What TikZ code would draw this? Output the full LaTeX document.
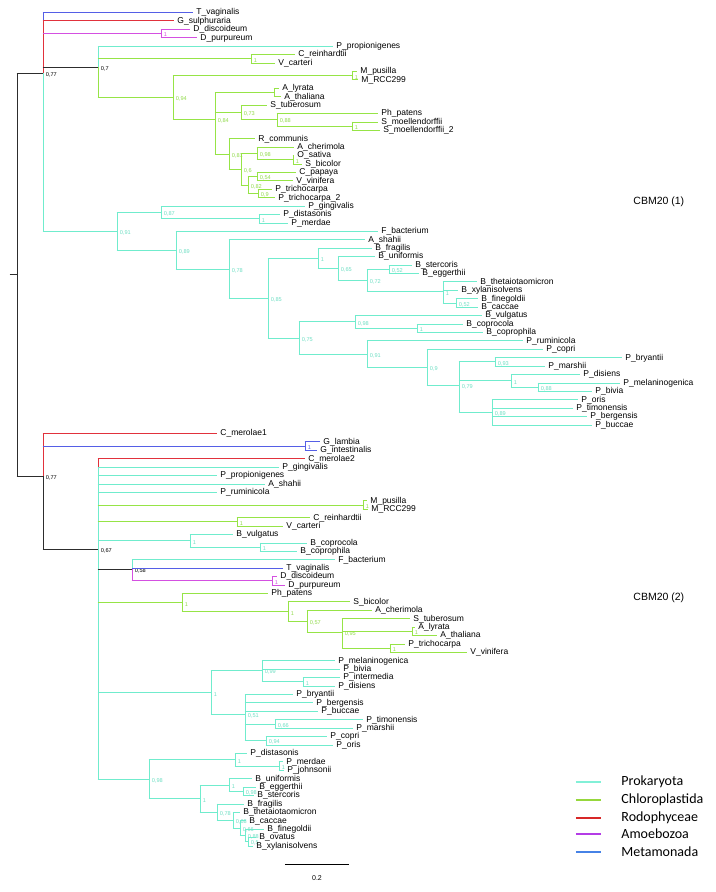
\documentclass[tikz,border=0pt]{standalone}
\usepackage{fontspec}
\setmainfont{Liberation Sans}
\newfontfamily\legfont{Carlito}
\definecolor{cy}{RGB}{112,236,205}
\definecolor{gr}{RGB}{150,228,70}
\definecolor{rd}{RGB}{225,50,60}
\definecolor{mg}{RGB}{212,80,225}
\definecolor{bl}{RGB}{85,95,230}
\definecolor{dk}{RGB}{45,45,45}
\definecolor{cyt}{RGB}{110,222,195}
\definecolor{grt}{RGB}{145,218,75}
\definecolor{lcy}{RGB}{130,240,215}
\definecolor{lgr}{RGB}{150,215,60}
\definecolor{lrd}{RGB}{215,40,40}
\definecolor{lmg}{RGB}{180,60,230}
\definecolor{lbl}{RGB}{70,130,230}
\newcounter{svc}
\newcommand\TreeH[4]{\draw[#1] (#2,#4) -- (#3,#4);}
\newcommand\TreeV[4]{\draw[#1] (#2,#3) -- (#2,#4);}
\newcommand\TreeLeaf[5]{\draw[#1] (#2,#4) -- (#3,#4) node[leaf] (L#4) {#5};}
\newcommand\TreeSup[4]{\stepcounter{svc}\node[sup,text=#1] (S\arabic{svc}) at (#2,#3) {#4};}
\tikzset{
  leaf/.style={anchor=west, inner sep=0pt, xshift=3pt, text=black,
    font=\fontsize{8.5}{9}\selectfont, text height=6.2pt, text depth=1.6pt},
  sup/.style={anchor=west, inner sep=0pt, xshift=2.5pt, yshift=-1.5pt,
    font=\fontsize{5.6}{6}\selectfont},
  every path/.style={line width=0.9pt, line cap=rect}
}
\begin{document}
\begin{tikzpicture}[x=1pt, y=-8.42pt]
\useasboundingbox (0,-1.485) rectangle (716,104.455);
% ---------------- root ----------------
\TreeV{dk}{17}{7.21}{55.08}
\draw[dk] (10,31.15) -- (17,31.15);
\TreeH{dk}{17}{43}{7.21}
\TreeSup{black}{43}{7.21}{0,77}
\TreeH{dk}{17}{43}{55.08}
\TreeSup{black}{43}{55.08}{0,77}
% ---------------- CBM20 (1) ----------------
\TreeV{bl}{43}{0}{1}
\TreeV{rd}{43}{1}{7.21}
\TreeV{cy}{43}{7.21}{25.99}
\TreeLeaf{bl}{43}{193}{0}{T\_vaginalis}
\TreeLeaf{rd}{43}{174}{1}{G\_sulphuraria}
\TreeH{mg}{43}{161}{2.5}
\TreeV{mg}{161}{2}{3}
\TreeLeaf{mg}{161}{190}{2}{D\_discoideum}
\TreeLeaf{mg}{161}{197}{3}{D\_purpureum}
\TreeSup{mg}{161}{2.5}{1}
% 0,7
\TreeH{dk}{43}{98}{6.54}
\TreeSup{black}{98}{6.54}{0,7}
\TreeV{cy}{98}{4}{6.54}
\TreeV{gr}{98}{6.54}{10.11}
\TreeLeaf{cy}{98}{333}{4}{P\_propionigenes}
\TreeH{gr}{98}{251}{5.5}
\TreeV{gr}{251}{5}{6}
\TreeLeaf{gr}{251}{295}{5}{C\_reinhardtii}
\TreeLeaf{gr}{251}{275}{6}{V\_carteri}
\TreeSup{grt}{251}{5.5}{1}
\TreeH{gr}{98}{173}{10.11}
\TreeSup{grt}{173}{10.11}{0,94}
\TreeV{gr}{173}{7.5}{12.73}
\TreeH{gr}{173}{352}{7.5}
\TreeV{gr}{352}{7}{8}
\TreeLeaf{gr}{352}{357}{7}{M\_pusilla}
\TreeLeaf{gr}{352}{358}{8}{M\_RCC299}
\TreeSup{grt}{352}{7.5}{1}
\TreeH{gr}{173}{215}{12.73}
\TreeSup{grt}{215}{12.73}{0,84}
\TreeV{gr}{215}{9.5}{16.81}
\TreeH{gr}{215}{274}{9.5}
\TreeV{gr}{274}{9}{10}
\TreeLeaf{gr}{274}{279}{9}{A\_lyrata}
\TreeLeaf{gr}{274}{281}{10}{A\_thaliana}
\TreeH{gr}{215}{241}{11.875}
\TreeSup{grt}{241}{11.875}{0,73}
\TreeV{gr}{241}{11}{12.75}
\TreeLeaf{gr}{241}{267}{11}{S\_tuberosum}
\TreeH{gr}{241}{277}{12.75}
\TreeSup{grt}{277}{12.75}{0,88}
\TreeV{gr}{277}{12}{13.5}
\TreeLeaf{gr}{277}{378}{12}{Ph\_patens}
\TreeH{gr}{277}{352}{13.5}
\TreeV{gr}{352}{13}{14}
\TreeLeaf{gr}{352}{378}{13}{S\_moellendorffii}
\TreeLeaf{gr}{352}{380}{14}{S\_moellendorffii\_2}
\TreeSup{grt}{352}{13.5}{1}
\TreeH{gr}{215}{229}{16.81}
\TreeSup{grt}{229}{16.81}{0,81}
\TreeV{gr}{229}{15}{18.625}
\TreeLeaf{gr}{229}{255}{15}{R\_communis}
\TreeH{gr}{229}{241}{18.625}
\TreeSup{grt}{241}{18.625}{0,6}
\TreeV{gr}{241}{16.75}{20.5}
\TreeH{gr}{241}{257}{16.75}
\TreeSup{grt}{257}{16.75}{0,98}
\TreeV{gr}{257}{16}{17.5}
\TreeLeaf{gr}{257}{294}{16}{A\_cherimola}
\TreeH{gr}{257}{293}{17.5}
\TreeSup{grt}{293}{17.5}{1}
\TreeV{gr}{293}{17}{18}
\TreeLeaf{gr}{293}{294}{17}{O\_sativa}
\TreeLeaf{gr}{293}{302}{18}{S\_bicolor}
\TreeH{gr}{241}{248}{20.5}
\TreeSup{grt}{248}{20.5}{0,82}
\TreeV{gr}{248}{19.5}{21.5}
\TreeH{gr}{248}{257}{19.5}
\TreeSup{grt}{257}{19.5}{0,54}
\TreeV{gr}{257}{19}{20}
\TreeLeaf{gr}{257}{296}{19}{C\_papaya}
\TreeLeaf{gr}{257}{293}{20}{V\_vinifera}
\TreeH{gr}{248}{258}{21.5}
\TreeSup{grt}{258}{21.5}{0,9}
\TreeV{gr}{258}{21}{22}
\TreeLeaf{gr}{258}{272}{21}{P\_trichocarpa}
\TreeLeaf{gr}{258}{275}{22}{P\_trichocarpa\_2}
% prokaryota clade
\TreeH{cy}{43}{117}{25.99}
\TreeSup{cyt}{117}{25.99}{0,91}
\TreeV{cy}{117}{23.75}{28.23}
\TreeH{cy}{117}{161}{23.75}
\TreeSup{cyt}{161}{23.75}{0,87}
\TreeV{cy}{161}{23}{24.5}
\TreeLeaf{cy}{161}{305}{23}{P\_gingivalis}
\TreeH{cy}{161}{259}{24.5}
\TreeSup{cyt}{259}{24.5}{1}
\TreeV{cy}{259}{24}{25}
\TreeLeaf{cy}{259}{280}{24}{P\_distasonis}
\TreeLeaf{cy}{259}{288}{25}{P\_merdae}
\TreeH{cy}{117}{176}{28.23}
\TreeSup{cyt}{176}{28.23}{0,89}
\TreeV{cy}{176}{26}{30.47}
\TreeLeaf{cy}{176}{378}{26}{F\_bacterium}
\TreeH{cy}{176}{229}{30.47}
\TreeSup{cyt}{229}{30.47}{0,78}
\TreeV{cy}{229}{27}{33.93}
\TreeLeaf{cy}{229}{365}{27}{A\_shahii}
\TreeH{cy}{229}{268}{33.93}
\TreeSup{cyt}{268}{33.93}{0,85}
\TreeV{cy}{268}{29.21}{38.66}
\TreeH{cy}{268}{318}{29.21}
\TreeSup{cyt}{318}{29.21}{1}
\TreeV{cy}{318}{28}{30.42}
\TreeLeaf{cy}{318}{372}{28}{B\_fragilis}
\TreeH{cy}{318}{338}{30.42}
\TreeSup{cyt}{338}{30.42}{0,65}
\TreeV{cy}{338}{29}{31.83}
\TreeLeaf{cy}{338}{375}{29}{B\_uniformis}
\TreeH{cy}{338}{367}{31.83}
\TreeSup{cyt}{367}{31.83}{0,72}
\TreeV{cy}{367}{30.5}{33.17}
\TreeH{cy}{367}{389}{30.5}
\TreeSup{cyt}{389}{30.5}{0,52}
\TreeV{cy}{389}{30}{31}
\TreeLeaf{cy}{389}{412}{30}{B\_stercoris}
\TreeLeaf{cy}{389}{419}{31}{B\_eggerthii}
\TreeH{cy}{367}{443}{33.17}
\TreeSup{cyt}{443}{33.17}{1}
\TreeV{cy}{443}{32}{34.5}
\TreeLeaf{cy}{443}{477}{32}{B\_thetaiotaomicron}
\TreeLeaf{cy}{443}{458}{33}{B\_xylanisolvens}
\TreeH{cy}{443}{456}{34.5}
\TreeSup{cyt}{456}{34.5}{0,52}
\TreeV{cy}{456}{34}{35}
\TreeLeaf{cy}{456}{478}{34}{B\_finegoldii}
\TreeLeaf{cy}{456}{478}{35}{B\_caccae}
\TreeH{cy}{268}{299}{38.66}
\TreeSup{cyt}{299}{38.66}{0,75}
\TreeV{cy}{299}{36.75}{40.56}
\TreeH{cy}{299}{355}{36.75}
\TreeSup{cyt}{355}{36.75}{0,98}
\TreeV{cy}{355}{36}{37.5}
\TreeLeaf{cy}{355}{482}{36}{B\_vulgatus}
\TreeH{cy}{355}{417}{37.5}
\TreeSup{cyt}{417}{37.5}{1}
\TreeV{cy}{417}{37}{38}
\TreeLeaf{cy}{417}{463}{37}{B\_coprocola}
\TreeLeaf{cy}{417}{483}{38}{B\_coprophila}
\TreeH{cy}{299}{367}{40.56}
\TreeSup{cyt}{367}{40.56}{0,91}
\TreeV{cy}{367}{39}{42.125}
\TreeLeaf{cy}{367}{523}{39}{P\_ruminicola}
\TreeH{cy}{367}{427}{42.125}
\TreeSup{cyt}{427}{42.125}{0,9}
\TreeV{cy}{427}{40}{44.25}
\TreeLeaf{cy}{427}{543}{40}{P\_copri}
\TreeH{cy}{427}{459}{44.25}
\TreeSup{cyt}{459}{44.25}{0,79}
\TreeV{cy}{459}{41.5}{47.5}
\TreeH{cy}{459}{495}{41.5}
\TreeSup{cyt}{495}{41.5}{0,93}
\TreeV{cy}{495}{41}{42}
\TreeLeaf{cy}{495}{622}{41}{P\_bryantii}
\TreeLeaf{cy}{495}{545}{42}{P\_marshii}
\TreeH{cy}{459}{511}{43.75}
\TreeSup{cyt}{511}{43.75}{1}
\TreeV{cy}{511}{43}{44.5}
\TreeLeaf{cy}{511}{580}{43}{P\_disiens}
\TreeH{cy}{511}{538}{44.5}
\TreeSup{cyt}{538}{44.5}{0,88}
\TreeV{cy}{538}{44}{45}
\TreeLeaf{cy}{538}{620}{44}{P\_melaninogenica}
\TreeLeaf{cy}{538}{592}{45}{P\_bivia}
\TreeH{cy}{459}{492}{47.5}
\TreeSup{cyt}{492}{47.5}{0,89}
\TreeV{cy}{492}{46}{49}
\TreeLeaf{cy}{492}{578}{46}{P\_oris}
\TreeLeaf{cy}{492}{573}{47}{P\_timonensis}
\TreeLeaf{cy}{492}{587}{48}{P\_bergensis}
\TreeLeaf{cy}{492}{592}{49}{P\_buccae}
% ---------------- CBM20 (2) ----------------
\TreeV{rd}{43}{50}{55.08}
\TreeV{dk}{43}{55.08}{63.74}
\TreeLeaf{rd}{43}{217}{50}{C\_merolae1}
\TreeH{bl}{43}{305}{51.5}
\TreeV{bl}{305}{51}{52}
\TreeLeaf{bl}{305}{320}{51}{G\_lambia}
\TreeLeaf{bl}{305}{317}{52}{G\_intestinalis}
\TreeSup{bl}{305}{51.5}{1}
\TreeH{dk}{43}{98}{63.74}
\TreeSup{black}{98}{63.74}{0,67}
\TreeV{rd}{98}{53}{54}
\TreeV{cy}{98}{54}{91.05}
\TreeLeaf{rd}{98}{305}{53}{C\_merolae2}
\TreeLeaf{cy}{98}{279}{54}{P\_gingivalis}
\TreeLeaf{cy}{98}{217}{55}{P\_propionigenes}
\TreeLeaf{cy}{98}{265}{56}{A\_shahii}
\TreeLeaf{cy}{98}{217}{57}{P\_ruminicola}
\TreeH{gr}{98}{363}{58.5}
\TreeV{gr}{363}{58}{59}
\TreeLeaf{gr}{363}{367}{58}{M\_pusilla}
\TreeLeaf{gr}{363}{368}{59}{M\_RCC299}
\TreeSup{grt}{363}{58.5}{1}
\TreeH{gr}{98}{237}{60.5}
\TreeV{gr}{237}{60}{61}
\TreeLeaf{gr}{237}{310}{60}{C\_reinhardtii}
\TreeLeaf{gr}{237}{283}{61}{V\_carteri}
\TreeSup{grt}{237}{60.5}{1}
\TreeH{cy}{98}{190}{62.75}
\TreeSup{cyt}{190}{62.75}{1}
\TreeV{cy}{190}{62}{63.5}
\TreeLeaf{cy}{190}{233}{62}{B\_vulgatus}
\TreeH{cy}{190}{260}{63.5}
\TreeSup{cyt}{260}{63.5}{1}
\TreeV{cy}{260}{63}{64}
\TreeLeaf{cy}{260}{307}{63}{B\_coprocola}
\TreeLeaf{cy}{260}{297}{64}{B\_coprophila}
\TreeH{dk}{98}{132}{66.17}
\TreeSup{black}{132}{66.17}{0,58}
\TreeV{cy}{132}{65}{66.17}
\TreeV{mg}{132}{66.17}{67.5}
\TreeLeaf{cy}{132}{335}{65}{F\_bacterium}
\TreeLeaf{bl}{132}{283}{66}{T\_vaginalis}
\TreeH{mg}{132}{272}{67.5}
\TreeV{mg}{272}{67}{68}
\TreeLeaf{mg}{272}{277}{67}{D\_discoideum}
\TreeLeaf{mg}{272}{285}{68}{D\_purpureum}
\TreeSup{mg}{272}{67.5}{1}
\TreeH{gr}{98}{182}{70.08}
\TreeSup{grt}{182}{70.08}{1}
\TreeV{gr}{182}{69}{71.17}
\TreeLeaf{gr}{182}{268}{69}{Ph\_patens}
\TreeH{gr}{182}{288}{71.17}
\TreeSup{grt}{288}{71.17}{1}
\TreeV{gr}{288}{70}{72.33}
\TreeLeaf{gr}{288}{350}{70}{S\_bicolor}
\TreeH{gr}{288}{307}{72.33}
\TreeSup{grt}{307}{72.33}{0,57}
\TreeV{gr}{307}{71}{73.67}
\TreeLeaf{gr}{307}{372}{71}{A\_cherimola}
\TreeH{gr}{307}{342}{73.67}
\TreeSup{grt}{342}{73.67}{0,95}
\TreeV{gr}{342}{72}{75.5}
\TreeLeaf{gr}{342}{410}{72}{S\_tuberosum}
\TreeH{gr}{342}{412}{73.5}
\TreeV{gr}{412}{73}{74}
\TreeLeaf{gr}{412}{415}{73}{A\_lyrata}
\TreeLeaf{gr}{412}{437}{74}{A\_thaliana}
\TreeSup{grt}{412}{73.5}{1}
\TreeH{gr}{342}{390}{75.5}
\TreeV{gr}{390}{75}{76}
\TreeLeaf{gr}{390}{405}{75}{P\_trichocarpa}
\TreeLeaf{gr}{390}{467}{76}{V\_vinifera}
\TreeSup{grt}{390}{75.5}{1}
% prevotella
\TreeH{cy}{98}{211}{80.78}
\TreeSup{cyt}{211}{80.78}{1}
\TreeV{cy}{211}{78.17}{83.4}
\TreeH{cy}{211}{262}{78.17}
\TreeSup{cyt}{262}{78.17}{0,99}
\TreeV{cy}{262}{77}{79.5}
\TreeLeaf{cy}{262}{335}{77}{P\_melaninogenica}
\TreeLeaf{cy}{262}{340}{78}{P\_bivia}
\TreeH{cy}{262}{303}{79.5}
\TreeSup{cyt}{303}{79.5}{1}
\TreeV{cy}{303}{79}{80}
\TreeLeaf{cy}{303}{340}{79}{P\_intermedia}
\TreeLeaf{cy}{303}{335}{80}{P\_disiens}
\TreeH{cy}{211}{245}{83.4}
\TreeSup{cyt}{245}{83.4}{0,51}
\TreeV{cy}{245}{81}{86.5}
\TreeLeaf{cy}{245}{293}{81}{P\_bryantii}
\TreeLeaf{cy}{245}{313}{82}{P\_bergensis}
\TreeLeaf{cy}{245}{318}{83}{P\_buccae}
\TreeH{cy}{245}{275}{84.5}
\TreeSup{cyt}{275}{84.5}{0,66}
\TreeV{cy}{275}{84}{85}
\TreeLeaf{cy}{275}{363}{84}{P\_timonensis}
\TreeLeaf{cy}{275}{353}{85}{P\_marshii}
\TreeH{cy}{245}{266}{86.5}
\TreeSup{cyt}{266}{86.5}{0,94}
\TreeV{cy}{266}{86}{87}
\TreeLeaf{cy}{266}{327}{86}{P\_copri}
\TreeLeaf{cy}{266}{333}{87}{P\_oris}
% bacteroidetes
\TreeH{cy}{98}{149}{91.05}
\TreeSup{cyt}{149}{91.05}{0,98}
\TreeV{cy}{149}{88.75}{93.36}
\TreeH{cy}{149}{235}{88.75}
\TreeSup{cyt}{235}{88.75}{1}
\TreeV{cy}{235}{88}{89.5}
\TreeLeaf{cy}{235}{247}{88}{P\_distasonis}
\TreeH{cy}{235}{279}{89.5}
\TreeSup{cyt}{279}{89.5}{1}
\TreeV{cy}{279}{89}{90}
\TreeLeaf{cy}{279}{283}{89}{P\_merdae}
\TreeLeaf{cy}{279}{284}{90}{P\_johnsonii}
\TreeH{cy}{149}{200}{93.36}
\TreeSup{cyt}{200}{93.36}{1}
\TreeV{cy}{200}{91.75}{94.97}
\TreeH{cy}{200}{229}{91.75}
\TreeSup{cyt}{229}{91.75}{1}
\TreeV{cy}{229}{91}{92.5}
\TreeLeaf{cy}{229}{252}{91}{B\_uniformis}
\TreeH{cy}{229}{243}{92.5}
\TreeSup{cyt}{243}{92.5}{0,98}
\TreeV{cy}{243}{92}{93}
\TreeLeaf{cy}{243}{256}{92}{B\_eggerthii}
\TreeLeaf{cy}{243}{254}{93}{B\_stercoris}
\TreeH{cy}{200}{217}{94.97}
\TreeSup{cyt}{217}{94.97}{0,78}
\TreeV{cy}{217}{94}{95.94}
\TreeLeaf{cy}{217}{244}{94}{B\_fragilis}
\TreeH{cy}{217}{233}{95.94}
\TreeSup{cyt}{233}{95.94}{0,68}
\TreeV{cy}{233}{95}{96.875}
\TreeLeaf{cy}{233}{240}{95}{B\_thetaiotaomicron}
\TreeH{cy}{233}{240}{96.875}
\TreeSup{cyt}{240}{96.875}{0,66}
\TreeV{cy}{240}{96}{97.75}
\TreeLeaf{cy}{240}{246}{96}{B\_caccae}
\TreeH{cy}{240}{245}{97.75}
\TreeSup{cyt}{245}{97.75}{0,88}
\TreeV{cy}{245}{97}{98.5}
\TreeLeaf{cy}{245}{264}{97}{B\_finegoldii}
\TreeH{cy}{245}{248}{98.5}
\TreeSup{cyt}{248}{98.5}{0,5}
\TreeV{cy}{248}{98}{99}
\TreeLeaf{cy}{248}{256}{98}{B\_ovatus}
\TreeLeaf{cy}{248}{253}{99}{B\_xylanisolvens}
% ---------------- group labels ----------------
\node[anchor=west, inner sep=0pt, font=\fontsize{10.5}{12}\selectfont] (g1) at (633,22.5) {CBM20 (1)};
\node[anchor=west, inner sep=0pt, font=\fontsize{10.5}{12}\selectfont] (g2) at (633,69.5) {CBM20 (2)};
% ---------------- scale bar ----------------
\coordinate (sb1) at (285,101.13);
\coordinate (sb2) at (349,101.13);
\draw[black, line width=0.8pt, line cap=butt] (sb1) -- (sb2);
\node[inner sep=0pt, font=\fontsize{7}{8}\selectfont] (sbl) at (317,102.79) {0.2};
% ---------------- legend ----------------
\foreach \yy/\cc/\tt/\nn in {91.39/lcy/Prokaryota/k1, 93.53/lgr/Chloroplastida/k2, 95.67/lrd/Rodophyceae/k3, 97.57/lmg/Amoebozoa/k4, 99.7/lbl/Metamonada/k5}{
  \coordinate (\nn a) at (576,\yy);
  \coordinate (\nn b) at (601,\yy);
  \draw[\cc, line width=2.2pt, line cap=butt] (\nn a) -- (\nn b);
  \node[anchor=west, inner sep=0pt, font=\legfont\fontsize{14}{15}\selectfont] (\nn) at (621,\yy) {\tt};
}
\end{tikzpicture}
\end{document}
